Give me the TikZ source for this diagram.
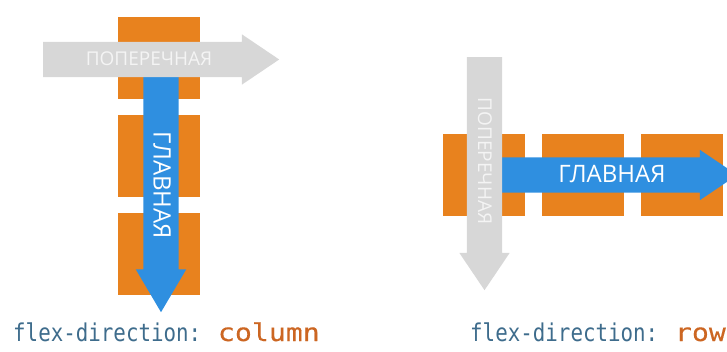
\documentclass[tikz,border=0pt]{standalone}
\usepackage{fontspec}
\usepackage{tikz}
\usetikzlibrary{shapes.arrows}

\newfontfamily\labelfont{Open Sans}
\newfontfamily\codefont[FakeStretch=0.85]{DejaVu Sans Mono}
\newfontfamily\valuefont[FakeStretch=1.15,FakeBold=0.3]{DejaVu Sans Mono}

\definecolor{boxorange}{HTML}{E8821E}
\definecolor{mainblue}{HTML}{2F8FE0}
\definecolor{crossgray}{HTML}{D7D7D7}
\definecolor{crosstext}{HTML}{F4F4F4}
\definecolor{codeblue}{HTML}{3E6C8C}
\definecolor{codeorange}{HTML}{CC6622}

\tikzset{
	box/.style={fill=boxorange, minimum width=82pt, minimum height=82pt, inner sep=0pt},
	flexarrow/.style={shape=single arrow, inner xsep=0pt, inner ysep=17.5pt,
		single arrow head extend=7.5pt, anchor=tail},
	crosslabel/.style={text=crosstext, inner sep=0pt, font=\labelfont\fontsize{19}{20}\selectfont},
	mainlabel/.style={text=white, inner sep=0pt, font=\labelfont\fontsize{24}{26}\selectfont},
	caption/.style={inner sep=0pt, anchor=base west, font=\codefont\fontsize{24.5}{26}\selectfont}
}

\begin{document}
\begin{tikzpicture}[x=1pt, y=1pt]
		\clip (0,0) rectangle (727,351);

		% column
		\node[box] (c1) at (159,293) {};
		\node[box] (c2) at (159,195) {};
		\node[box] (c3) at (159,97) {};

		\node[flexarrow, fill=mainblue, rotate=-90, minimum height=235pt, single arrow tip angle=61] (cmain) at (161,274) {};
		\node[flexarrow, fill=crossgray, minimum height=236pt, single arrow tip angle=68] (ccross) at (43,291.5) {};

		\node[crosslabel] (ccrosstext) at (149,292) {ПОПЕРЕЧНАЯ};
		\node[mainlabel, rotate=-90] (cmaintext) at (162,165.5) {ГЛАВНАЯ};

		\node[caption] (ccap) at (13,10) {\textcolor{codeblue}{flex-direction:} \textcolor{codeorange}{\valuefont column}};

		% row
		\node[box] (r1) at (484,176) {};
		\node[box] (r2) at (583,176) {};
		\node[box] (r3) at (682,176) {};

		\node[flexarrow, fill=mainblue, minimum height=235pt, single arrow tip angle=68] (rmain) at (502,176) {};
		\node[flexarrow, fill=crossgray, rotate=-90, minimum height=233pt, single arrow tip angle=68] (rcross) at (484.5,294) {};

		\node[crosslabel, rotate=-90] (rcrosstext) at (485,190) {ПОПЕРЕЧНАЯ};
		\node[mainlabel] (rmaintext) at (612,177) {ГЛАВНАЯ};

		\node[caption] (rcap) at (470,10) {\textcolor{codeblue}{flex-direction:} \textcolor{codeorange}{\valuefont row}};
		
		\end{tikzpicture}
\end{document}
